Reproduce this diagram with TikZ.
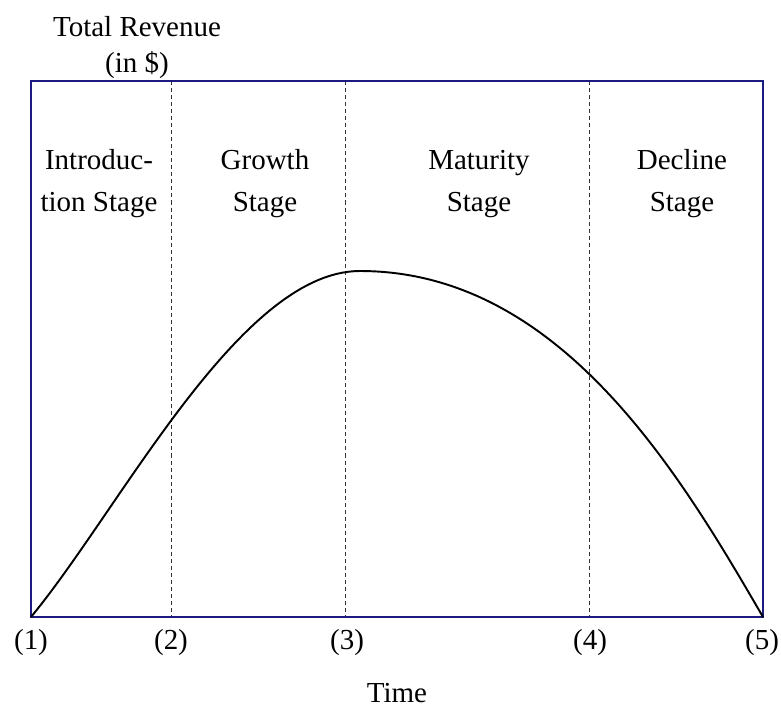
\documentclass[tikz,border=0pt]{standalone}
\usepackage{fontspec}
\setmainfont{Liberation Serif}
\definecolor{frameblue}{RGB}{28,28,128}

\begin{document}
\begin{tikzpicture}[x=0.02cm, y=-0.02cm,
    every node/.style={font=\fontsize{16.5}{23.9}\selectfont},
    stagelabel/.style={align=center},
    divider/.style={gray!40!black, line width=0.5pt, dash pattern=on 2.3pt off 1.7pt},
    revenue/.style={black, line width=1.1pt}]
  \useasboundingbox (0,0) rectangle (781,708);
  % stage boundaries on the time axis
  \foreach \x/\n in {31/1, 171/2, 345/3, 589/4, 763/5} {
    \coordinate (t\n) at (\x,81);
    \coordinate (b\n) at (\x,617);
  }
  \coordinate (peak) at (360,271);
  \foreach \n in {2,3,4}
    \draw[divider] (t\n) -- (b\n);
  \draw[frameblue, line width=1.1pt] (t1) rectangle (b5);
  % revenue curve
  \draw[revenue] (b1) .. controls (121,508) and (240,271) .. (peak)
    .. controls (560,271) and (680,474) .. (b5);
  % axis labels
  \node[align=center, font=\fontsize{16.5}{20.5}\selectfont] (ylab) at (137,48) {Total Revenue\\(in \$)};
  \node (xlab) at (397,693) {Time};
  \foreach \x/\n in {31/1, 171/2, 347/3, 590/4, 762/5}
    \node (l\n) at (\x,643) {(\n)};
  % stage names
  \node[stagelabel] (intro) at (99,184) {Introduc-\\tion Stage};
  \node[stagelabel] (growth) at (265,184) {Growth\\Stage};
  \node[stagelabel] (mature) at (479,184) {Maturity\\Stage};
  \node[stagelabel] (decline) at (682,184) {Decline\\Stage};
\end{tikzpicture}
\end{document}
